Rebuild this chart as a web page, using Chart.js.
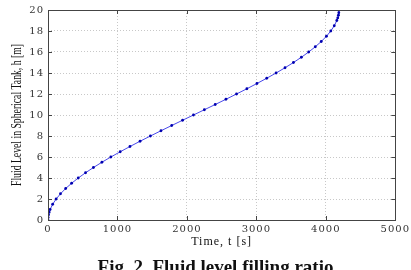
<!DOCTYPE html>
<html>
<head>
<meta charset="utf-8">
<script src="https://cdn.jsdelivr.net/npm/chart.js@4.4.1/dist/chart.umd.min.js"></script>
<style>
  html, body { margin: 0; padding: 0; background: #fff; }
  #wrap { position: relative; width: 411px; height: 270px; overflow: hidden; }
  #c { position: absolute; left: 0; top: 0; }
  #caption { position: absolute; left: 0; width: 431px; top: 257px; text-align: center;
    font-family: 'Liberation Serif', 'Times New Roman', serif; font-weight: bold; font-size: 19px;
    line-height: 20px; color: #111; white-space: nowrap; }
</style>
</head>
<body>
<div id="wrap">
  <canvas id="c" width="411" height="270"></canvas>
  <div id="caption">Fig. 2. Fluid level filling ratio</div>
</div>
<script>
// Time t [s] at which the fluid level h [m] is reached
const timeValues = [0, 1.9, 7.7, 17.2, 30.4, 67.2, 117.3, 180.0, 254.5, 340.0, 435.6, 540.8, 654.5, 776.1,
  904.8, 1039.7, 1180.2, 1325.4, 1474.5, 1626.7, 1781.3, 1937.5, 2094.4, 2251.4, 2407.5, 2562.1,
  2714.3, 2863.4, 3008.6, 3149.1, 3284.0, 3412.7, 3534.3, 3648.1, 3753.2, 3848.8, 3934.3, 4008.9,
  4071.5, 4121.6, 4158.4, 4171.6, 4181.1, 4186.9, 4188.8];
const levelValues = [0, 0.25, 0.5, 0.75, 1, 1.5, 2, 2.5, 3, 3.5, 4, 4.5, 5, 5.5,
  6, 6.5, 7, 7.5, 8, 8.5, 9, 9.5, 10, 10.5, 11, 11.5,
  12, 12.5, 13, 13.5, 14, 14.5, 15, 15.5, 16, 16.5, 17, 17.5,
  18, 18.5, 19, 19.25, 19.5, 19.75, 20];
const xTicks = [0, 1000, 2000, 3000, 4000, 5000];
const yTicks = [0, 2, 4, 6, 8, 10, 12, 14, 16, 18, 20];
const yTitle = 'Fluid Level in Spherical Tank, h [m]';

const points = timeValues.map((t, i) => ({ x: t, y: levelValues[i] }));

const boxPlugin = {
  id: 'box',
  beforeDraw(chart) {
    chart.ctx.letterSpacing = '1px';
  },
  afterDraw(chart) {
    const { ctx, chartArea: a, scales } = chart;
    ctx.save();
    ctx.letterSpacing = '0px';
    ctx.strokeStyle = '#444';
    ctx.lineWidth = 1;
    ctx.strokeRect(Math.round(a.left) + 0.5, Math.round(a.top) + 0.5,
      Math.round(a.right - a.left), Math.round(a.bottom - a.top));
    // inward tick marks, Matlab style
    ctx.beginPath();
    yTicks.forEach(v => {
      const y = Math.round(scales.y.getPixelForValue(v)) + 0.5;
      ctx.moveTo(a.left, y); ctx.lineTo(a.left + 4, y);
      ctx.moveTo(a.right, y); ctx.lineTo(a.right - 4, y);
    });
    xTicks.forEach(v => {
      const x = Math.round(scales.x.getPixelForValue(v)) + 0.5;
      ctx.moveTo(x, a.bottom); ctx.lineTo(x, a.bottom - 4);
      ctx.moveTo(x, a.top); ctx.lineTo(x, a.top + 4);
    });
    ctx.stroke();
    // condensed vertical axis title
    ctx.font = '15px "Liberation Serif", serif';
    ctx.fillStyle = '#111';
    ctx.textAlign = 'center';
    ctx.textBaseline = 'alphabetic';
    const w = ctx.measureText(yTitle).width;
    const sx = 142 / w;
    ctx.translate(21, (a.top + a.bottom) / 2);
    ctx.rotate(-Math.PI / 2);
    ctx.scale(sx, 1);
    ctx.fillText(yTitle, 0, 0);
    ctx.restore();
  }
};

new Chart(document.getElementById('c'), {
  type: 'scatter',
  data: {
    datasets: [{
      data: points,
      showLine: true,
      borderColor: 'rgba(40,40,230,0.85)',
      borderWidth: 1,
      pointRadius: 1.4,
      pointBackgroundColor: '#0000b0',
      pointBorderWidth: 0,
      tension: 0
    }]
  },
  options: {
    responsive: false,
    animation: false,
    devicePixelRatio: 1,
    layout: { padding: { top: 7, right: 13, bottom: 0, left: 0 } },
    plugins: { legend: { display: false }, tooltip: { enabled: false } },
    scales: {
      x: {
        type: 'linear', min: 0, max: 5000,
        afterBuildTicks: s => { s.ticks = xTicks.map(v => ({ value: v })); },
        afterFit: s => { s.height = 50; },
        grid: { color: '#c8c8c8', borderDash: [1, 2], drawTicks: false },
        border: { display: false, dash: [1, 2] },
        ticks: { color: '#333', padding: 3, maxRotation: 0,
          callback: v => String(v),
          font: { family: 'DejaVu Serif', size: 10 } },
        title: { display: true, text: 'Time, t [s]', color: '#111',
          font: { family: 'Liberation Serif', size: 12 }, padding: { top: 0, bottom: 21 } }
      },
      y: {
        type: 'linear', min: 0, max: 20,
        afterBuildTicks: s => { s.ticks = yTicks.map(v => ({ value: v })); },
        afterFit: s => { s.width = 48; },
        grid: { color: '#c8c8c8', borderDash: [1, 2], drawTicks: false },
        border: { display: false, dash: [1, 2] },
        ticks: { color: '#333', padding: 4,
          callback: v => String(v),
          font: { family: 'DejaVu Serif', size: 10 } },
        title: { display: false }
      }
    }
  },
  plugins: [boxPlugin]
});
</script>
</body>
</html>
